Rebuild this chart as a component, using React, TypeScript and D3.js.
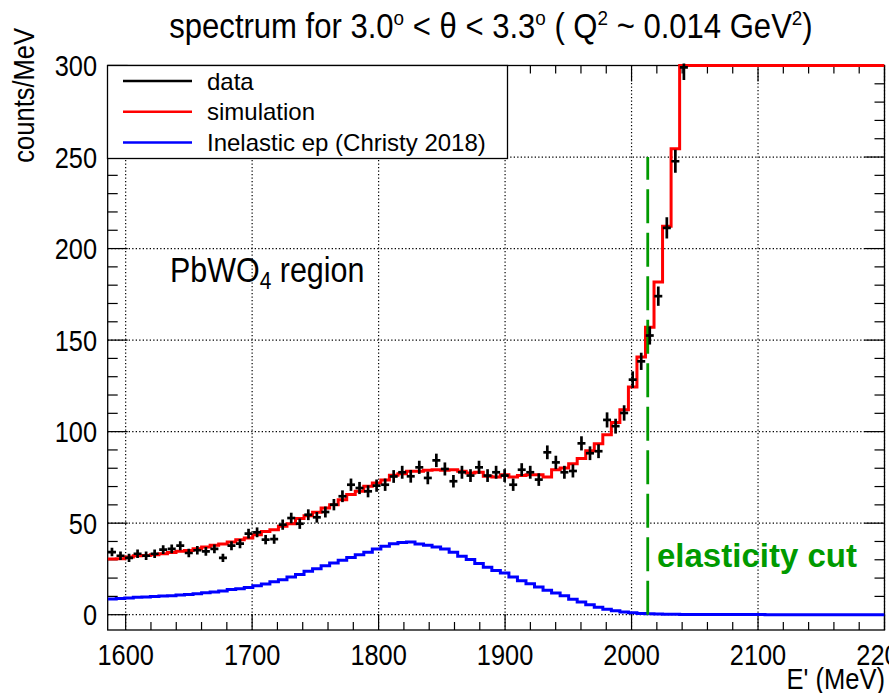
import React from "react";
import * as d3 from "d3";

const X_MIN = 1585.8;
const X_MAX = 2200;
const N_BINS = 91;
const Y_MIN = -8.36;
const Y_MAX = 300;
const CUT_E = 2012.8;
const CUT_TOP = 250;

// data counts per bin (bins 0..67 visible; higher bins off scale)
const dataCounts = [
  34.2, 32.2, 31, 33.3, 32.2, 33.3, 35.5, 36, 37.7, 33.7,
  35.2, 34.6, 36, 31, 37.7, 38.8, 44.3, 45, 41, 41.3,
  49.2, 52.8, 49.7, 54.6, 53.2, 56.1, 60.1, 64.7, 71, 69.2,
  67.4, 70.5, 71, 75.5, 77.8, 75.6, 80.5, 74.7, 84.3, 79.6,
  72.9, 77.8, 76, 80.5, 76, 77.8, 76, 71, 79.2, 77.8,
  73.8, 88.7, 83.2, 77.8, 78.5, 93.6, 88.2, 89.3, 106.4, 103,
  110.2, 128.4, 138.4, 152.5, 174, 211.3, 247.7, 299,
];

const simCounts = [
  30.4, 30.6, 31.5, 32.2, 32.4, 32.8, 33.3, 34, 34.6, 35,
  36, 37, 37.9, 38.6, 39.7, 41, 41.9, 43.7, 45.5, 46.4,
  48.3, 49.7, 52.5, 54.1, 55.9, 58.3, 60.1, 62.8, 65.6, 67.4,
  70.1, 71.9, 73.6, 76.2, 77, 78.3, 78.3, 78.9, 79.2, 78.9,
  79.2, 78.3, 77.4, 77.8, 75.6, 75.2, 76.5, 75.2, 76, 76.5,
  76.5, 75.2, 79.2, 80.1, 82.5, 85.3, 89.5, 93.4, 98.3, 105,
  112, 124.4, 140.8, 157, 181.8, 212.2, 254.5, 340, 420, 520,
  640, 780, 950, 1150, 1380, 1650, 1950, 2300, 2700, 3150,
  3650, 4200, 4800, 5450, 6150, 6900, 7700, 8500, 9300, 10100,
  10800,
];

const inelasticCounts = [
  8.6, 8.9, 9.1, 9.5, 9.7, 10, 10.2, 10.4, 10.7, 11.1,
  11.5, 12, 12.4, 12.9, 13.7, 14.2, 14.9, 15.8, 16.8, 18,
  19.1, 20.6, 21.9, 23.7, 25.1, 26.8, 28.2, 29.7, 31.3, 32.8,
  34.1, 35.9, 37.4, 38.8, 39.5, 39.7, 38.6, 37.9, 37, 35.9,
  34.1, 31.9, 30.1, 27.9, 25.9, 24.2, 22.8, 20.6, 18.6, 16.9,
  15.1, 13.3, 11.8, 10.3, 8.5, 7, 5.4, 4.1, 3, 2.2,
  1.5, 1.0, 0.7, 0.5, 0.35, 0.25, 0.2, 0.15, 0.12, 0.1,
  0.08, 0.07, 0.06, 0.05, 0.05, 0.04, 0.04, 0.03, 0.03, 0.03,
  0.02, 0.02, 0.02, 0.02, 0.02, 0.02, 0.02, 0.02, 0.02, 0.02,
  0.02,
];

const xTickValues = [1600, 1700, 1800, 1900, 2000, 2100, 2200];
const yTickValues = [0, 50, 100, 150, 200, 250, 300];

const legendItems = [
  { label: "data", color: "#000000" },
  { label: "simulation", color: "#ff0000" },
  { label: "Inelastic ep (Christy 2018)", color: "#0000ff" },
];

const W = 889;
const H = 693;
const FL = 107.7;
const FR = 884.5;
const FT = 65.5;
const FB = 630;
const FONT = "'Liberation Sans', Arial, Helvetica, sans-serif";

function T({ x, y, size, anchor = "start", sx = 0.9, rotate = 0, weight = "normal", fill = "#000", children }: any) {
  const tr = `translate(${x},${y})${rotate ? ` rotate(${rotate})` : ""} scale(${sx},1)`;
  return (
    <text transform={tr} fontSize={size} textAnchor={anchor} fontFamily={FONT} fontWeight={weight} fill={fill}>
      {children}
    </text>
  );
}

export default function App() {
  const x = d3.scaleLinear().domain([X_MIN, X_MAX]).range([FL, FR]);
  const y = d3.scaleLinear().domain([Y_MIN, Y_MAX]).range([FB, FT]);
  const bw = (X_MAX - X_MIN) / N_BINS;
  const clampV = (v: number) => Math.max(Y_MIN, Math.min(Y_MAX, v));

  const stepPath = (vals: number[]) => {
    const pts: [number, number][] = vals.map((v, i) => [X_MIN + i * bw, clampV(v)]);
    pts.push([X_MIN + vals.length * bw, clampV(vals[vals.length - 1])]);
    return d3
      .line<[number, number]>()
      .x((d) => x(d[0]))
      .y((d) => y(d[1]))
      .curve(d3.curveStepAfter)(pts) as string;
  };

  const xMinor = d3.range(1600, 2200.1, 20);
  const yMinor = d3.range(0, 300.1, 10);

  return (
    <svg width={W} height={H} style={{ position: "absolute", left: 0, top: 0, background: "#fff" }}>
      <defs>
        <clipPath id="frame">
          <rect x={FL} y={FT - 2} width={FR - FL} height={FB - FT + 2} />
        </clipPath>
      </defs>
      <rect x={0} y={0} width={W} height={H} fill="#fff" />

      {/* grid */}
      <g stroke="#000" strokeWidth={1.2} strokeDasharray="1.3,2.2">
        {xTickValues.map((v) => (
          <line key={"gx" + v} x1={x(v)} x2={x(v)} y1={FT} y2={FB} />
        ))}
        {yTickValues.map((v) => (
          <line key={"gy" + v} x1={FL} x2={FR} y1={y(v)} y2={y(v)} />
        ))}
      </g>

      {/* ticks */}
      <g stroke="#000" strokeWidth={1.2}>
        {xMinor.map((v) => {
          const major = Math.abs(v % 100) < 1e-6;
          const len = major ? 16 : 8;
          return (
            <g key={"xt" + v}>
              <line x1={x(v)} x2={x(v)} y1={FB} y2={FB - len} />
              <line x1={x(v)} x2={x(v)} y1={FT} y2={FT + len} />
            </g>
          );
        })}
        {yMinor.map((v) => {
          const major = Math.abs(v % 50) < 1e-6;
          const len = major ? 20 : 10;
          return (
            <g key={"yt" + v}>
              <line x1={FL} x2={FL + len} y1={y(v)} y2={y(v)} />
              <line x1={FR} x2={FR - len} y1={y(v)} y2={y(v)} />
            </g>
          );
        })}
      </g>

      {/* frame */}
      <rect x={FL} y={FT} width={FR - FL} height={FB - FT} fill="none" stroke="#000" strokeWidth={1.3} />

      {/* legend */}
      <rect x={107.5} y={65.5} width={400} height={93} fill="#fff" stroke="#000" strokeWidth={1.3} />
      {legendItems.map((it, i) => {
        const ly = 81 + i * 30.7;
        return (
          <g key={it.label}>
            <line x1={123} x2={192} y1={ly} y2={ly} stroke={it.color} strokeWidth={2.5} />
            <T x={207} y={ly + 8.5} size={24} sx={1}>
              {it.label}
            </T>
          </g>
        );
      })}

      {/* histograms */}
      <g clipPath="url(#frame)" fill="none">
        <path d={stepPath(inelasticCounts)} stroke="#0000ff" strokeWidth={3} />
        <path d={stepPath(simCounts)} stroke="#ff0000" strokeWidth={3} />
      </g>

      {/* elasticity cut */}
      <line
        x1={x(CUT_E)}
        x2={x(CUT_E)}
        y1={y(0)}
        y2={y(CUT_TOP)}
        stroke="#009a00"
        strokeWidth={2.8}
        strokeDasharray="34,9.5"
      />

      {/* data points */}
      <g clipPath="url(#frame)" stroke="#000" strokeWidth={2.7}>
        {dataCounts.map((v, i) => {
          const cx = x(X_MIN + (i + 0.5) * bw);
          const cy = y(v);
          const err = y(0) - y(0.4 * Math.sqrt(v));
          return (
            <g key={"d" + i}>
              <line x1={cx - 4} x2={cx + 4} y1={cy} y2={cy} />
              <line x1={cx} x2={cx} y1={cy - err} y2={cy + err} />
            </g>
          );
        })}
      </g>

      {/* axis labels */}
      {xTickValues.map((v) => (
        <T key={"xl" + v} x={x(v)} y={665} size={29.5} sx={0.86} anchor="middle">
          {String(v)}
        </T>
      ))}
      {yTickValues.map((v) => (
        <T key={"yl" + v} x={97} y={y(v) + 10.5} size={29.5} sx={0.86} anchor="end">
          {String(v)}
        </T>
      ))}
      <T x={885} y={689} size={29} sx={0.88} anchor="end">
        E' (MeV)
      </T>
      <T x={34} y={28} size={29} sx={0.88} anchor="end" rotate={-90}>
        counts/MeV
      </T>

      {/* title */}
      <T x={491} y={38} size={34.5} anchor="middle" sx={0.9}>
        spectrum for 3.0
        <tspan dy={-13} fontSize={21}>o</tspan>
        <tspan dy={13}> &lt; θ &lt; 3.3</tspan>
        <tspan dy={-13} fontSize={21}>o</tspan>
        <tspan dy={13}> ( Q</tspan>
        <tspan dy={-13} fontSize={21}>2</tspan>
        <tspan dy={13}> ~ 0.014 GeV</tspan>
        <tspan dy={-13} fontSize={21}>2</tspan>
        <tspan dy={13}>)</tspan>
      </T>

      {/* annotations */}
      <T x={170} y={282} size={35} sx={0.87}>
        PbWO
        <tspan dy={7} fontSize={24}>4</tspan>
        <tspan dy={-7}> region</tspan>
      </T>
      <T x={657} y={567} size={33} sx={1} weight="bold" fill="#009a00">
        elasticity cut
      </T>
    </svg>
  );
}
